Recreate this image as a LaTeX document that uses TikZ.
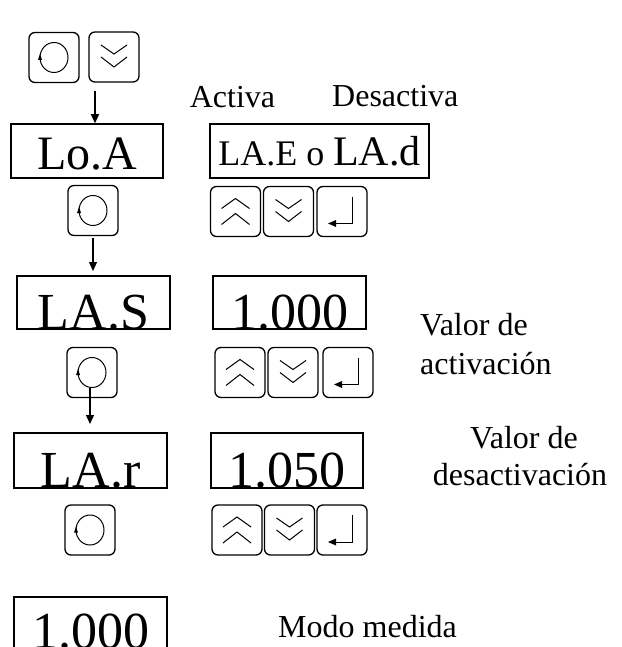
\documentclass[tikz,border=0pt]{standalone}
\usepackage{fontspec}
\setmainfont{Liberation Serif}
\usetikzlibrary{arrows.meta}
\begin{document}
\begin{tikzpicture}[x=1pt,y=-1pt,
  key/.style={draw, line width=1.3pt, rounded corners=6pt, minimum width=50pt, minimum height=50pt, inner sep=0pt},
  disp/.style={draw, line width=1.5pt, inner sep=0pt, anchor=base},
  big/.style={font=\fontsize{52}{52}\selectfont},
  lbl/.style={font=\fontsize{32}{38}\selectfont, inner sep=0pt},
  arr/.style={line width=1.2pt, -{Triangle[length=9pt,width=8pt]}},
  icon/.style={line width=1pt},
  circicon/.pic={\draw[icon] (0,0) ellipse [x radius=14pt, y radius=15pt];
                 \fill (-14,-3.5) -- (-16,2.5) -- (-12,2.5) -- cycle;},
  downicon/.pic={\draw[icon] (-13,-12) -- (0,-3) -- (13,-12) (-13,0) -- (0,10) -- (13,0);},
  upicon/.pic={\draw[icon] (-14,-3) -- (0,-13) -- (14,-3) (-14,13) -- (0,2) -- (14,13);},
  entericon/.pic={\draw[icon] (10,-15) -- (10,12) -- (-6,12);
                  \fill (-14,12) -- (-6,8.5) -- (-6,15.5) -- cycle;},
]
\useasboundingbox (0,0) rectangle (621,647);

% row 1 keys
\node[key] (k1c) at (54,57.5) {};
\node[key] (k1d) at (114,57) {};
\pic at (k1c) {circicon};
\pic at (k1d) {downicon};

% labels
\node[lbl, anchor=base] (lact) at (232.5,108) {Activa};
\node[lbl, anchor=base west] (ldes) at (332,107) {Desactiva};

% row 1 displays
\node[disp, minimum width=152pt, text height=46pt, text depth=8pt, font=\fontsize{48}{48}\selectfont] (loa) at (87,170) {Lo.A};
\node[disp, minimum width=219pt, text height=42pt, text depth=12pt] (lae) at (319.5,166)
  {\fontsize{36}{36}\selectfont LA.E o \fontsize{42}{42}\selectfont LA.d};

% row 2 keys
\node[key] (k2c) at (93,210.5) {};
\node[key] (k2u) at (235.5,211.5) {};
\node[key] (k2d) at (288.5,211.5) {};
\node[key] (k2e) at (342,211.5) {};
\pic at (k2c) {circicon};
\pic at (k2u) {upicon};
\pic at (k2d) {downicon};
\pic at (k2e) {entericon};

% row 2 displays
\node[disp, big, minimum width=153pt, text height=53pt, text depth=0pt] (las) at (93.5,329) {LA.S};
\node[disp, big, minimum width=153pt, text height=53pt, text depth=0pt] (v1) at (289.5,329) {1.000};
\node[lbl, anchor=base west] (lva1) at (420,335) {Valor de};
\node[lbl, anchor=base west] (lva2) at (420,374) {activación};

% row 3 keys
\node[key] (k3c) at (92,372.5) {};
\node[key] (k3u) at (240,372.5) {};
\node[key] (k3d) at (293,372.5) {};
\node[key] (k3e) at (348,372.5) {};
\pic at (k3c) {circicon};
\pic at (k3u) {upicon};
\pic at (k3d) {downicon};
\pic at (k3e) {entericon};

% row 3 displays
\node[disp, big, minimum width=153pt, text height=54pt, text depth=1pt] (lar) at (90.5,487) {LA.r};
\node[disp, big, minimum width=152pt, text height=54pt, text depth=1pt] (v2) at (287,487) {1.050};
\node[lbl, anchor=base] (lvd1) at (524,448) {Valor de};
\node[lbl, anchor=base] (lvd2) at (520,485) {desactivación};

% row 4 keys
\node[key] (k4c) at (90,530) {};
\node[key] (k4u) at (237,530) {};
\node[key] (k4d) at (289.5,530) {};
\node[key] (k4e) at (342,530) {};
\pic at (k4c) {circicon};
\pic at (k4u) {upicon};
\pic at (k4d) {downicon};
\pic at (k4e) {entericon};

% measuring mode
\node[disp, big, minimum width=153pt, text height=51pt, text depth=12pt] (v3) at (90.5,648) {1.000};
\node[lbl, anchor=base west] (lmodo) at (278,637) {Modo medida};

% connectors
\coordinate (a1s) at (95,91);
\draw[arr] (a1s) -- (a1s |- loa.north);
\coordinate (a2s) at (93,238);
\coordinate (a2e) at (93,271);
\draw[arr] (a2s) -- (a2e);
\coordinate (a3s) at (90,388);
\coordinate (a3e) at (90,424);
\draw[arr] (a3s) -- (a3e);
\end{tikzpicture}
\end{document}
